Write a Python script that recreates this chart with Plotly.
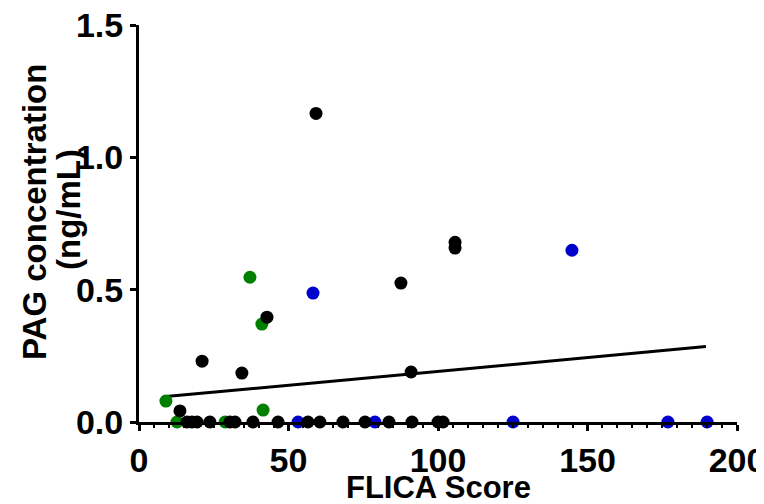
import plotly.graph_objects as go

# Data
black_x = [59.2, 105.7, 105.7, 87.6, 91.0, 42.8, 21.1, 34.4, 13.7,
           16.1, 17.7, 19.4, 23.7, 30.4, 32.1, 38.1, 46.5, 56.5, 60.5,
           68.2, 75.6, 83.6, 91.3, 100.0, 101.7]
black_y = [1.166, 0.679, 0.657, 0.525, 0.189, 0.396, 0.230, 0.185, 0.042,
           0, 0, 0, 0, 0, 0, 0, 0, 0, 0,
           0, 0, 0, 0, 0, 0]
green_x = [37.1, 41.1, 41.5, 9.0, 12.7, 28.8]
green_y = [0.547, 0.370, 0.045, 0.079, 0, 0]
blue_x = [58.2, 144.8, 53.2, 78.9, 125.1, 176.9, 190.0]
blue_y = [0.487, 0.649, 0, 0, 0, 0, 0]
fit_x = [9.0, 189.6]
fit_y = [0.096, 0.285]

x_ticks = [0, 50, 100, 150, 200]
y_ticks = [0.0, 0.5, 1.0, 1.5]
y_tick_text = ["0.0", "0.5", "1.0", "1.5"]

x_title = "FLICA Score"
y_title_1 = "PAG concentration"
y_title_2 = "(ng/mL)"

FONT = "Liberation Sans, Arial, sans-serif"

# page body has an 8px margin; figure sized so that it fills the window
W, H = 756, 496
L, R, T, B = 131, 27, 17, 82
PW, PH = W - L - R, H - T - B


def px(sx):  # screen x -> paper x
    return (sx - 8 - L) / PW


def py(sy):  # screen y -> paper y
    return (H - B - (sy - 8)) / PH


fig = go.Figure()
mk = 13
fig.add_trace(go.Scatter(x=fit_x, y=fit_y, mode="lines",
                         line=dict(color="black", width=3), cliponaxis=False))
fig.add_trace(go.Scatter(x=blue_x, y=blue_y, mode="markers",
                         marker=dict(color="#0000CC", size=mk), cliponaxis=False))
fig.add_trace(go.Scatter(x=green_x, y=green_y, mode="markers",
                         marker=dict(color="#008000", size=mk), cliponaxis=False))
fig.add_trace(go.Scatter(x=black_x, y=black_y, mode="markers",
                         marker=dict(color="black", size=mk), cliponaxis=False))

title_font = dict(family=FONT, size=31, color="black", weight="bold")
yt_font = dict(family=FONT, size=33, color="black", weight="bold")
fig.update_layout(
    width=W, height=H,
    margin=dict(l=L, r=R, t=T, b=B),
    paper_bgcolor="white", plot_bgcolor="white",
    showlegend=False,
    font=dict(family=FONT, color="black"),
    annotations=[
        dict(text=x_title, xref="paper", yref="paper", x=px(438), y=py(487),
             xanchor="center", yanchor="middle", showarrow=False, font=title_font),
        dict(text=y_title_1, xref="paper", yref="paper", x=px(34), y=py(212),
             xanchor="center", yanchor="middle", showarrow=False, textangle=-90,
             font=yt_font),
        dict(text=y_title_2, xref="paper", yref="paper", x=px(68), y=py(210),
             xanchor="center", yanchor="middle", showarrow=False, textangle=-90,
             font=yt_font),
    ],
)
fig.update_xaxes(
    range=[0, 200], tickvals=x_ticks,
    showgrid=False, zeroline=False, automargin=False,
    showline=True, linecolor="black", linewidth=3,
    ticks="outside", ticklen=6, tickwidth=3, tickcolor="black",
    minor=dict(dtick=5, ticks="outside", ticklen=3, tickwidth=2, tickcolor="black"),
    tickfont=dict(family=FONT, size=34, weight="bold"),
    ticklabeloverflow="allow",
)
fig.update_yaxes(
    range=[0, 1.5], tickvals=y_ticks, ticktext=y_tick_text,
    showgrid=False, zeroline=False, automargin=False,
    showline=True, linecolor="black", linewidth=3,
    ticks="outside", ticklen=6, tickwidth=3, tickcolor="black",
    tickfont=dict(family=FONT, size=34, weight="bold"),
    ticklabeloverflow="allow",
)

fig.write_html("out.html")
